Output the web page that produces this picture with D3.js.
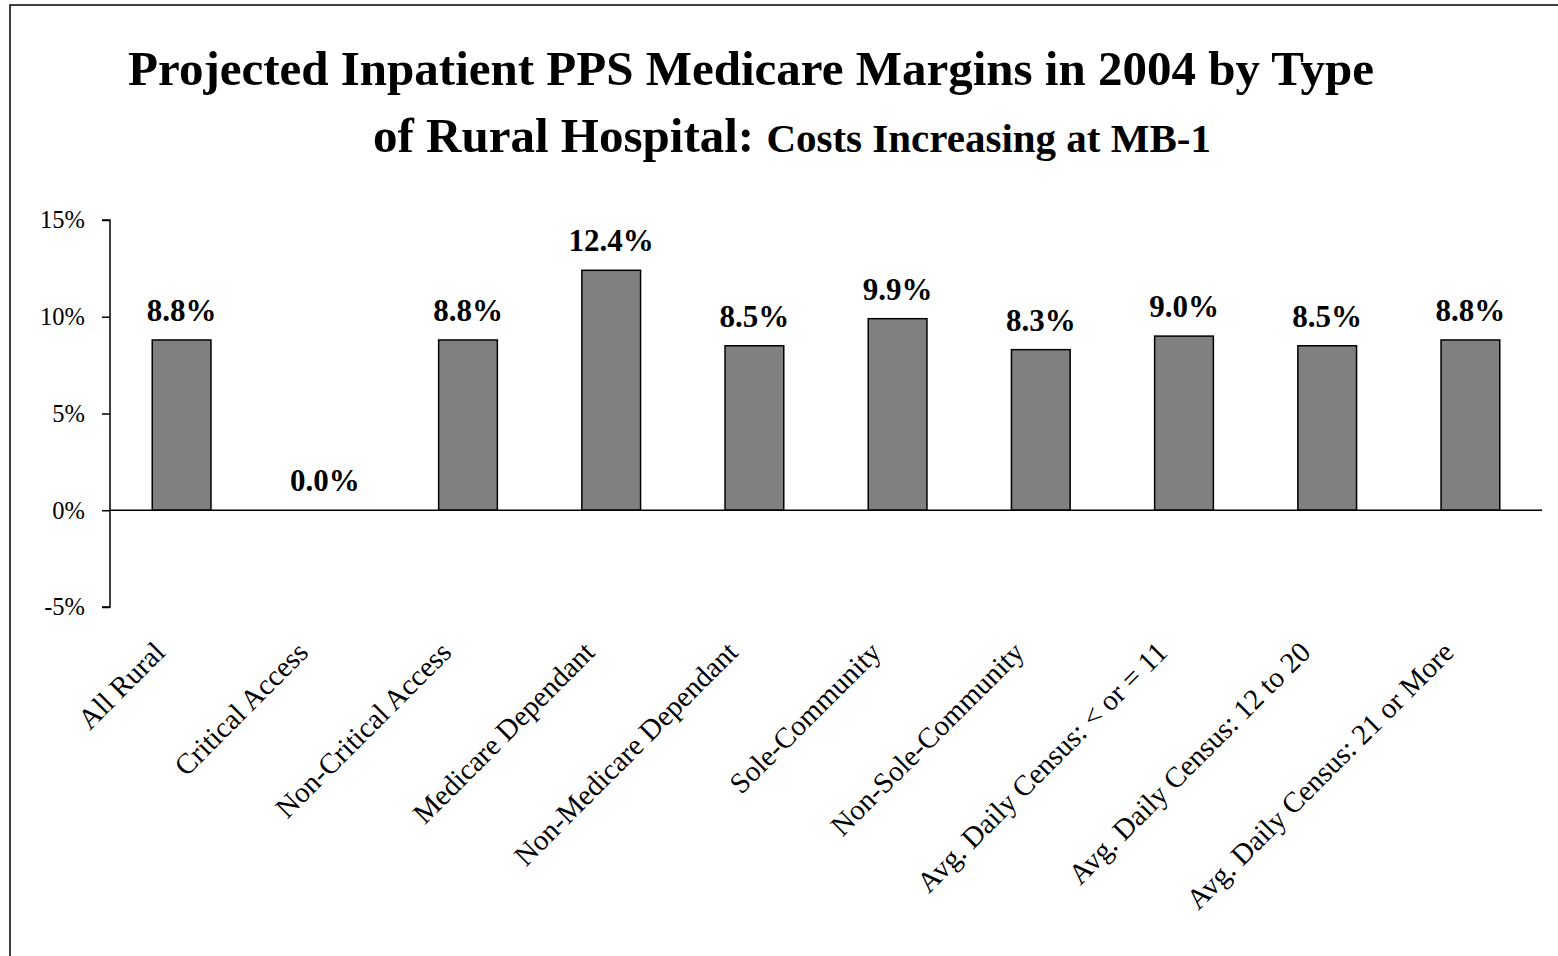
<!DOCTYPE html>
<html><head><meta charset="utf-8">
<script src="https://cdn.jsdelivr.net/npm/d3@7"></script>
<style>html,body{margin:0;padding:0;background:#fff;overflow:hidden}</style>
</head><body>
<svg id="chart" width="1558" height="956"></svg>
<script>
const categories = ["All Rural","Critical Access","Non-Critical Access","Medicare Dependant","Non-Medicare Dependant","Sole-Community","Non-Sole-Community","Avg. Daily Census: < or = 11","Avg. Daily Census: 12 to 20","Avg. Daily Census: 21 or More"];
const values = [8.8, 0.0, 8.8, 12.4, 8.5, 9.9, 8.3, 9.0, 8.5, 8.8];
const yTicks = [-5, 0, 5, 10, 15];
const titleLine1 = "Projected Inpatient PPS Medicare Margins in 2004 by Type";
const titleLine2a = "of Rural Hospital: ";
const titleLine2b = "Costs Increasing at MB-1";

const svg = d3.select("#chart");
const font = "'Liberation Serif','Times New Roman',serif";

svg.append("rect").attr("x",10).attr("y",5).attr("width",1600).attr("height",1000)
  .attr("fill","#fff").attr("stroke","#000").attr("stroke-width",1.5);

const x = d3.scaleBand().domain(categories).range([110,1542]).paddingInner(0.59).paddingOuter(0.295);
const y = d3.scaleLinear().domain([-5,15]).range([607,220]);

// title
svg.append("text").attr("x",751).attr("y",85).attr("text-anchor","middle")
  .attr("font-family",font).attr("font-weight","bold").attr("font-size",49).text(titleLine1);
const t2 = svg.append("text").attr("x",792).attr("y",152).attr("text-anchor","middle")
  .attr("font-family",font).attr("font-weight","bold");
t2.append("tspan").attr("font-size",49).text(titleLine2a);
t2.append("tspan").attr("font-size",41).text(titleLine2b);

// y axis
const yAxis = d3.axisLeft(y).tickValues(yTicks).tickSize(8).tickPadding(17).tickFormat(d => d + "%");
const gy = svg.append("g").attr("transform","translate(110,0)").call(yAxis);
gy.select(".domain").attr("stroke","#000").attr("stroke-width",1.5).attr("d","M-8,"+y(15)+"H0V"+y(-5)+"H-8");
gy.selectAll(".tick line").attr("stroke","#000").attr("stroke-width",1.5);
gy.selectAll(".tick text").attr("font-family",font).attr("font-size",24.5).attr("fill","#000");

// bars
svg.append("g").selectAll("rect").data(values).join("rect")
  .attr("x",(d,i)=>x(categories[i]))
  .attr("width",x.bandwidth())
  .attr("y",d=>y(Math.max(0,d)))
  .attr("height",d=>Math.abs(y(d)-y(0)))
  .attr("fill","#808080").attr("stroke","#000").attr("stroke-width",1.5)
  .style("display",d=>d===0?"none":null);

// zero line
svg.append("line").attr("x1",110).attr("x2",1542).attr("y1",y(0)).attr("y2",y(0))
  .attr("stroke","#000").attr("stroke-width",1.5);

// value labels
svg.append("g").selectAll("text").data(values).join("text")
  .attr("x",(d,i)=>x(categories[i])+x.bandwidth()/2)
  .attr("y",d=>y(Math.max(0,d))-19)
  .attr("text-anchor","middle").attr("font-family",font).attr("font-weight","bold").attr("font-size",31)
  .text(d=>d.toFixed(1)+"%");

// category labels
svg.append("g").selectAll("text").data(categories).join("text")
  .attr("transform",d=>"translate("+(x(d)+x.bandwidth()/2-15)+",654) rotate(-45)")
  .attr("text-anchor","end").attr("font-family",font).attr("font-size",29)
  .text(d=>d);
</script>
</body></html>
